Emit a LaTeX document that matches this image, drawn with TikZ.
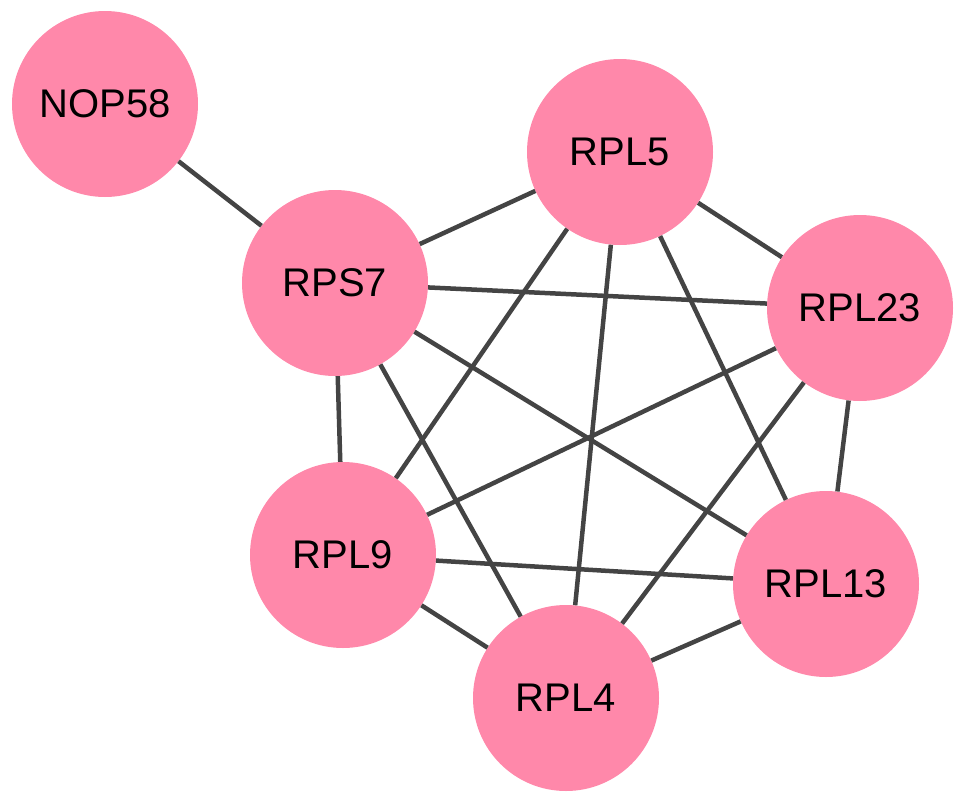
\documentclass[tikz,border=0pt]{standalone}
\usepackage{fontspec}
\setmainfont{Liberation Sans}
\definecolor{nodepink}{RGB}{255,136,170}
\definecolor{edgegray}{RGB}{68,68,68}
\begin{document}
\begin{tikzpicture}[x=1pt,y=-1pt,
  gene/.style={circle,fill=nodepink,draw=none,minimum size=186pt,inner sep=0pt,font=\fontsize{40}{48}\selectfont,text=black},
  link/.style={draw=edgegray,line width=4.5pt}]
\useasboundingbox (0,0) rectangle (969,803);
\node[gene] (nop58) at (105,104) {NOP58};
\node[gene] (rpl5) at (620,152) {RPL5};
\node[gene] (rps7) at (335,283) {RPS7};
\node[gene] (rpl23) at (860,308) {RPL23};
\node[gene] (rpl9) at (343,555) {RPL9};
\node[gene] (rpl13) at (826,584) {RPL13};
\node[gene] (rpl4) at (566,698) {RPL4};
\draw[link] (nop58) -- (rps7);
\draw[link] (rps7) -- (rpl5);
\draw[link] (rps7) -- (rpl23);
\draw[link] (rps7) -- (rpl9);
\draw[link] (rps7) -- (rpl4);
\draw[link] (rps7) -- (rpl13);
\draw[link] (rpl5) -- (rpl23);
\draw[link] (rpl5) -- (rpl9);
\draw[link] (rpl5) -- (rpl4);
\draw[link] (rpl5) -- (rpl13);
\draw[link] (rpl23) -- (rpl9);
\draw[link] (rpl23) -- (rpl4);
\draw[link] (rpl23) -- (rpl13);
\draw[link] (rpl9) -- (rpl13);
\draw[link] (rpl9) -- (rpl4);
\draw[link] (rpl13) -- (rpl4);
\end{tikzpicture}
\end{document}
